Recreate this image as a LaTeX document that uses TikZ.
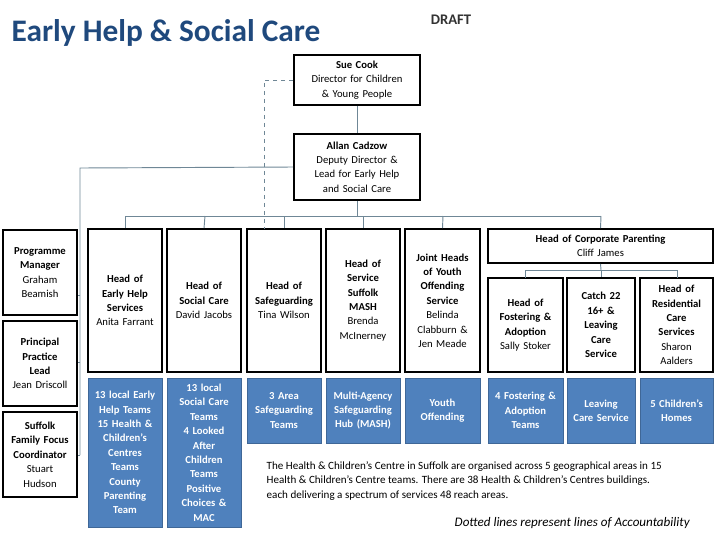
\documentclass[tikz,border=0pt]{standalone}
\usepackage{fontspec}
\setmainfont{Carlito}
\definecolor{bl}{HTML}{4F81BD}
\definecolor{ln}{HTML}{6F8796}
\definecolor{tt}{HTML}{1F497D}
\begin{document}
\begin{tikzpicture}[x=0.75pt,y=-0.75pt,
 bx/.style={draw=black,line width=1.3pt,align=center,inner sep=0pt,font=\fontsize{8}{10.8}\selectfont},
 bb/.style={fill=bl,draw=bl!80!black,line width=0.6pt,align=center,inner sep=0pt,text=white,font=\bfseries\fontsize{8}{10.8}\selectfont},
 cn/.style={draw=ln,line width=0.7pt}]
\useasboundingbox (0,0) rectangle (720,540);
\newcommand{\bxx}[6]{\node[#1,minimum width={(#4-#2)*0.75pt},minimum height={(#5-#3)*0.75pt},text width={(#4-#2-2)*0.75pt}] (#6) at ({(#2+#4)/2},{(#3+#5)/2})}
\node[anchor=west,text=tt,font=\bfseries\fontsize{23.5}{26}\selectfont] (title) at (7,33) {Early Help \& Social Care};
\node[font=\bfseries\fontsize{11}{13}\selectfont,text=black!80] (draft) at (451,20) {DRAFT};
\bxx{bx}{294}{55}{420}{105}{sue} {\textbf{Sue Cook}\\Director for Children\\\& Young People};
\bxx{bx}{294}{134}{420}{200}{allan} {\textbf{Allan Cadzow}\\Deputy Director \&\\Lead for Early Help\\and Social Care};
\bxx{bx}{3}{230}{77}{315}{pm} {\textbf{Programme}\\\textbf{Manager}\\Graham\\Beamish};
\bxx{bx}{3}{321}{77}{406}{pp} {\textbf{Principal}\\\textbf{Practice}\\\textbf{Lead}\\Jean Driscoll};
\bxx{bx}{3}{412}{77}{497}{sf} {\textbf{Suffolk}\\\textbf{Family Focus}\\\textbf{Coordinator}\\Stuart\\Hudson};
\bxx{bx}{88}{229}{162}{372}{eh} {\textbf{Head of}\\\textbf{Early Help}\\\textbf{Services}\\Anita Farrant};
\bxx{bx}{167}{229}{241}{372}{sc} {\textbf{Head of}\\\textbf{Social Care}\\David Jacobs};
\bxx{bx}{247}{229}{321}{372}{sg} {\textbf{Head of}\\\textbf{Safeguarding}\\Tina Wilson};
\bxx{bx}{326}{229}{400}{372}{ma} {\textbf{Head of}\\\textbf{Service}\\\textbf{Suffolk}\\\textbf{MASH}\\Brenda\\McInerney};
\bxx{bx}{405}{229}{480}{372}{yo} {\textbf{Joint Heads}\\\textbf{of Youth}\\\textbf{Offending}\\\textbf{Service}\\Belinda\\Clabburn \&\\Jen Meade};
\bxx{bx}{488}{229}{713}{263}{cp} {\textbf{Head of Corporate Parenting}\\Cliff James};
\bxx{bx}{488}{278}{563}{372}{fa} {\textbf{Head of}\\\textbf{Fostering \&}\\\textbf{Adoption}\\Sally Stoker};
\bxx{bx}{567}{278}{635}{372}{ct} {\textbf{Catch 22}\\\textbf{16+ \&}\\\textbf{Leaving}\\\textbf{Care}\\\textbf{Service}};
\bxx{bx}{640}{278}{713}{372}{rc} {\textbf{Head of}\\\textbf{Residential}\\\textbf{Care}\\\textbf{Services}\\Sharon\\Aalders};
\bxx{bb}{88}{378}{162}{527}{b1} {13 local Early\\Help Teams\\15 Health \&\\Children's\\Centres\\Teams\\County\\Parenting\\Team};
\bxx{bb}{167}{378}{241}{527}{b2} {13 local\\Social Care\\Teams\\4 Looked\\After\\Children\\Teams\\Positive\\Choices \&\\MAC};
\bxx{bb}{247}{378}{321}{443}{b3} {3 Area\\Safeguarding\\Teams};
\bxx{bb}{326}{378}{400}{443}{b4} {Multi-Agency\\Safeguarding\\Hub (MASH)};
\bxx{bb}{405}{378}{480}{443}{b5} {Youth\\Offending};
\bxx{bb}{488}{378}{563}{443}{b6} {4 Fostering \&\\Adoption\\Teams};
\bxx{bb}{567}{378}{635}{443}{b7} {Leaving\\Care Service};
\bxx{bb}{640}{378}{713}{443}{b8} {5 Children's\\Homes};
\node[anchor=north west,align=left,font=\fontsize{8.3}{10.8}\selectfont] (para) at (262,457) {The Health \& Children's Centre in Suffolk are organised across 5 geographical areas in 15\\Health \& Children's Centre teams. There are 38 Health \& Children's Centres buildings.\\each delivering a spectrum of services 48 reach areas.};
\node[anchor=west,font=\itshape\fontsize{9.8}{11}\selectfont] (note) at (450,523) {Dotted lines represent lines of Accountability};
% connectors
\draw[cn] (sue.south) -- (allan.north);
\draw[cn] (allan.south) -- (357,216);
\draw[cn] (125,216) -| (eh.north);
\draw[cn] (125,216) -- (601,216);
\draw[cn] (205,216) -- (sc.north);
\draw[cn] (284,216) -- (sg.north);
\draw[cn] (363,216) -- (ma.north);
\draw[cn] (443,216) -- (yo.north);
\draw[cn] (601,216) -- (cp.north);
\draw[cn] (allan.west) -- (80,168) -- (80,455);
\draw[cn] (80,295) -- (pm.east|-80,295);
\draw[cn] (80,362) -- (pp.east|-80,362);
\draw[cn] (80,455) -- (sf.east|-80,455);
\draw[cn] (cp.south) -- (601,270);
\draw[cn] (525,278) -- (525,270) -- (677,270) -- (677,278);
\draw[cn] (601,270) -- (ct.north);
\draw[cn,dashed] (sue.west|-0,80) -- (264,80) -- (264,229);
\end{tikzpicture}
\end{document}
